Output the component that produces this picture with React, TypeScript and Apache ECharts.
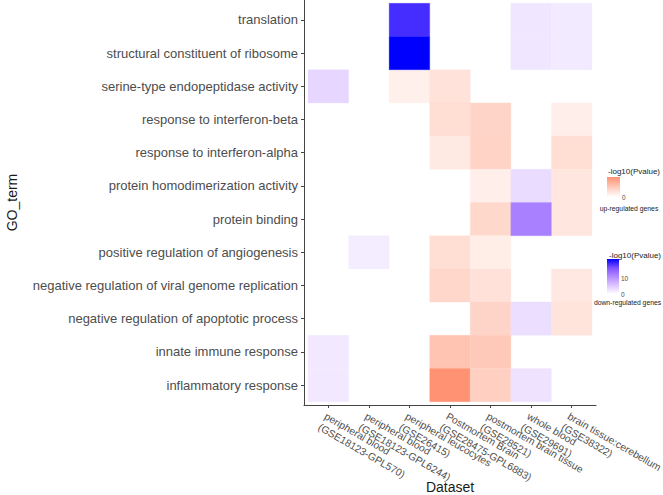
import React, { useEffect, useRef } from 'react';
import * as echarts from 'echarts';

const datasets = [
  'peripheral blood\n(GSE18123-GPL570)',
  'peripheral blood\n(GSE18123-GPL6244)',
  'peripheral leucocytes\n(GSE26415)',
  'Postmortem Brain\n(GSE28475-GPL6883)',
  'postmortem brain tissue\n(GSE28521)',
  'whole blood\n(GSE29691)',
  'brain tissue:cerebellum\n(GSE38322)',
];

// top to bottom
const goTerms = [
  'translation',
  'structural constituent of ribosome',
  'serine-type endopeptidase activity',
  'response to interferon-beta',
  'response to interferon-alpha',
  'protein homodimerization activity',
  'protein binding',
  'positive regulation of angiogenesis',
  'negative regulation of viral genome replication',
  'negative regulation of apoptotic process',
  'innate immune response',
  'inflammatory response',
];

// -log10(Pvalue), up-regulated genes (rows = goTerms, cols = datasets)
const upRegulated: (number | null)[][] = [
  [null, null, null, null, null, null, null],
  [null, null, null, null, null, null, null],
  [null, null, 0.63, 1.22, null, null, null],
  [null, null, null, 1.4, 1.8, null, 0.7],
  [null, null, null, 0.9, 1.85, null, 1.4],
  [null, null, null, null, 0.7, null, 1.0],
  [null, null, null, null, 1.65, null, 1.0],
  [null, null, null, 1.4, 0.75, null, null],
  [null, null, null, 1.7, 1.25, null, 0.97],
  [null, null, null, null, 1.8, null, 1.14],
  [null, null, null, 2.5, 2.3, null, null],
  [null, null, null, 4.6, 2.0, null, null],
];

// -log10(Pvalue), down-regulated genes
const downRegulated: (number | null)[][] = [
  [null, null, 19, null, null, 2.3, 2.0],
  [null, null, 22, null, null, 2.3, 2.0],
  [3.8, null, null, null, null, null, null],
  [null, null, null, null, null, null, null],
  [null, null, null, null, null, null, null],
  [null, null, null, null, null, 3.3, null],
  [null, null, null, null, null, 12, null],
  [null, 1.8, null, null, null, null, null],
  [null, null, null, null, null, null, null],
  [null, null, null, null, null, 3.1, null],
  [2.1, null, null, null, null, null, null],
  [2.1, null, null, null, null, 2.7, null],
];

const upMax = 4.6;
const downMax = 22;
const upColors = ['#FFFFFF', '#FF9272'];
const downColors = ['#FFFFFF', '#DCC4FF', '#B38BFF', '#7E51FF', '#0000FF'];
const upLegendTicks = [0];
const downLegendTicks = [0, 10];

function toCells(matrix: (number | null)[][]) {
  const out: number[][] = [];
  const n = goTerms.length;
  matrix.forEach((row, i) => {
    row.forEach((v, j) => {
      if (v !== null) out.push([j + 1, n - i, v]);
    });
  });
  return out;
}

const FONT = "'Liberation Sans', Arial, Helvetica, sans-serif";

export default function App() {
  const ref = useRef<HTMLDivElement>(null);
  useEffect(() => {
    if (!ref.current) return;
    const chart = echarts.init(ref.current, null, { renderer: 'svg' });
    const n = goTerms.length;
    const m = datasets.length;

    const renderItem = (params: any, api: any) => {
      const x = api.value(0);
      const y = api.value(1);
      const p0 = api.coord([x - 0.5, y + 0.5]);
      const p1 = api.coord([x + 0.5, y - 0.5]);
      const c = api.visual('color');
      return {
        type: 'rect',
        shape: { x: p0[0], y: p0[1], width: p1[0] - p0[0], height: p1[1] - p0[1] },
        style: { fill: c, stroke: c, lineWidth: 0.3 },
      };
    };

    // legend geometry
    const upBar = { x: 607, y: 177, w: 13, h: 20 };
    const downBar = { x: 607, y: 259, w: 12, h: 35 };
    const legendTextColor = '#4D4D4D';

    const graphics: any[] = [
      {
        type: 'text', x: 608, y: 171,
        style: { text: '-log10(Pvalue)', font: `8px ${FONT}`, fill: '#1A1A1A', verticalAlign: 'middle' },
      },
      {
        type: 'rect', shape: { x: upBar.x, y: upBar.y, width: upBar.w, height: upBar.h },
        style: {
          fill: new echarts.graphic.LinearGradient(0, 0, 0, 1,
            upColors.slice().reverse().map((c, i, arr) => ({ offset: i / (arr.length - 1), color: c }))),
        },
      },
      ...upLegendTicks.map((t) => ({
        type: 'text', x: 622, y: upBar.y + upBar.h - (t / upMax) * upBar.h,
        style: { text: String(t), font: `6.5px ${FONT}`, fill: legendTextColor, verticalAlign: 'middle' },
      })),
      {
        type: 'text', x: 629, y: 208,
        style: { text: 'up-regulated genes', font: `6.8px ${FONT}`, fill: '#1A1A1A', align: 'center', verticalAlign: 'middle' },
      },
      {
        type: 'text', x: 609, y: 255,
        style: { text: '-log10(Pvalue)', font: `8px ${FONT}`, fill: '#1A1A1A', verticalAlign: 'middle' },
      },
      {
        type: 'rect', shape: { x: downBar.x, y: downBar.y, width: downBar.w, height: downBar.h },
        style: {
          fill: new echarts.graphic.LinearGradient(0, 0, 0, 1,
            downColors.slice().reverse().map((c, i, arr) => ({ offset: i / (arr.length - 1), color: c }))),
        },
      },
      ...downLegendTicks.map((t) => ({
        type: 'text', x: 621, y: downBar.y + downBar.h - (t / downMax) * downBar.h,
        style: { text: String(t), font: `6.5px ${FONT}`, fill: legendTextColor, verticalAlign: 'middle' },
      })),
      {
        type: 'text', x: 627.5, y: 302,
        style: { text: 'down-regulated genes', font: `6.8px ${FONT}`, fill: '#1A1A1A', align: 'center', verticalAlign: 'middle' },
      },
    ];

    const axisLineColor = '#444';
    // pad the label list with blank labels at the axis ends so that the
    // min/max overlap check never drops a real dataset label
    const xLabelValues = [0.4, ...datasets.map((_, i) => i + 1), m + 0.6];

    chart.setOption({
      animation: false,
      backgroundColor: '#FFFFFF',
      textStyle: { fontFamily: FONT },
      grid: { left: 304, right: 67, top: 0, bottom: 90, outerBoundsMode: 'none' } as any,
      xAxis: {
        type: 'value',
        min: 0.4,
        max: m + 0.6,
        name: 'Dataset',
        nameLocation: 'middle',
        nameGap: 75,
        nameMoveOverlap: false,
        nameTextStyle: { fontSize: 14, color: '#1A1A1A', fontFamily: FONT, verticalAlign: 'top' },
        splitLine: { show: false },
        axisLine: { show: true, lineStyle: { color: axisLineColor, width: 1 } },
        axisTick: { show: true, length: 3, lineStyle: { color: axisLineColor }, customValues: datasets.map((_, i) => i + 1) },
        axisLabel: {
          customValues: xLabelValues,
          formatter: (v: number) => (Math.abs(v - Math.round(v)) < 1e-6 ? datasets[Math.round(v) - 1] ?? ' ' : ' '),
          hideOverlap: false,
          rotate: -30,
          align: 'left',
          verticalAlign: 'top',
          margin: 5,
          fontSize: 10.3,
          lineHeight: 12.5,
          color: '#4D4D4D',
          fontFamily: FONT,
        },
      } as any,
      yAxis: {
        type: 'value',
        min: 0.4,
        max: n + 0.6,
        name: 'GO_term',
        nameLocation: 'middle',
        nameGap: 285,
        nameMoveOverlap: false,
        nameTextStyle: { fontSize: 14, color: '#1A1A1A', fontFamily: FONT },
        splitLine: { show: false },
        axisLine: { show: true, lineStyle: { color: axisLineColor, width: 1 } },
        axisTick: { show: true, length: 3, lineStyle: { color: axisLineColor }, customValues: goTerms.map((_, i) => i + 1) },
        axisLabel: {
          customValues: goTerms.map((_, i) => i + 1),
          formatter: (v: number) => goTerms[n - Math.round(v)] ?? '',
          showMinLabel: true,
          showMaxLabel: true,
          margin: 6,
          fontSize: 13,
          color: '#4D4D4D',
          fontFamily: FONT,
        },
      } as any,
      visualMap: [
        { type: 'continuous', show: false, seriesIndex: 0, dimension: 2, min: 0, max: upMax, inRange: { color: upColors } },
        { type: 'continuous', show: false, seriesIndex: 1, dimension: 2, min: 0, max: downMax, inRange: { color: downColors } },
      ],
      series: [
        { type: 'custom', name: 'up-regulated genes', renderItem, encode: { x: 0, y: 1 }, data: toCells(upRegulated) },
        { type: 'custom', name: 'down-regulated genes', renderItem, encode: { x: 0, y: 1 }, data: toCells(downRegulated) },
      ],
      graphic: graphics,
    });
    return () => chart.dispose();
  }, []);
  return <div ref={ref} style={{ position: 'fixed', left: 0, top: 0, width: 663, height: 495, background: '#fff' }} />;
}
